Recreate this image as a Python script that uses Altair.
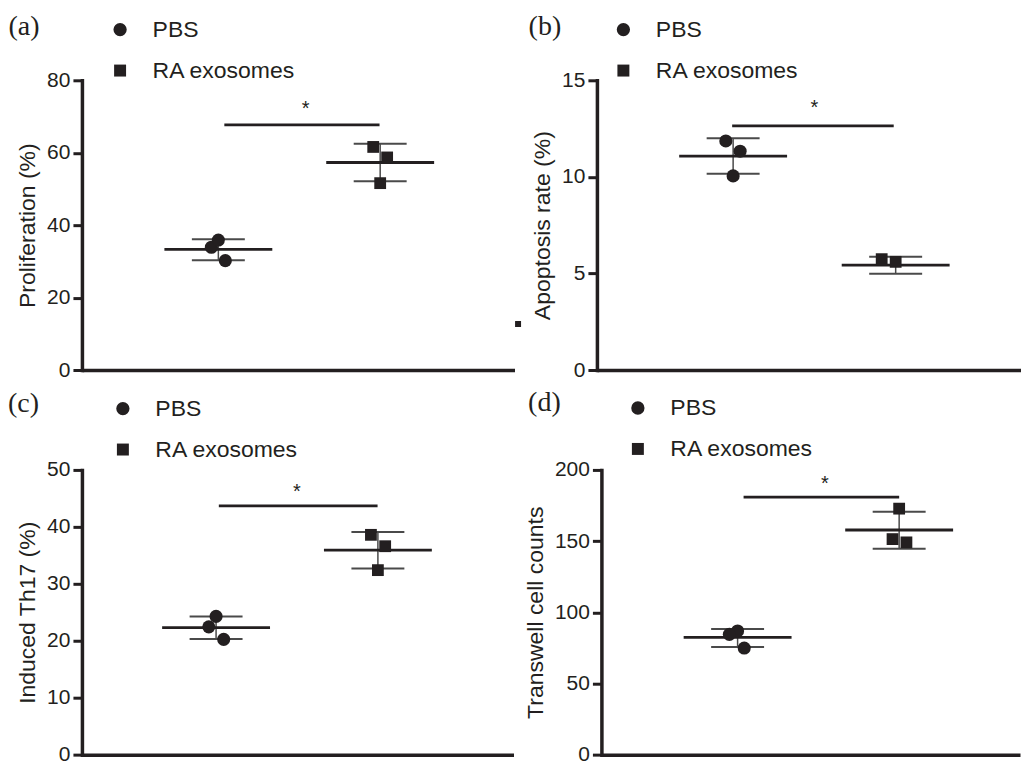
import altair as alt
import pandas as pd

FONT = "Liberation Sans"
SERIF = "Liberation Serif"
INK = "#231f20"
GREY = "#4a4a4a"
SQ = "M-0.9,-0.9H0.9V0.9H-0.9Z"

groups = ["PBS", "RA exosomes"]
group_pos = [1, 2]

# ---- panel (a) Proliferation ----
a_pbs = [33.9, 35.9, 30.2]
a_pbs_dx = [-0.043, 0.0, 0.043]
a_ra = [61.6, 58.7, 51.6]
a_ra_dx = [-0.043, 0.043, 0.0]
a_mean = [33.3, 57.3]
a_lo = [30.3, 52.1]
a_hi = [36.1, 62.5]
a_sig = [1.037, 1.996, 67.7]
a_star = [1.54, 70.3]
a_ticks = [0, 20, 40, 60, 80]

# ---- panel (b) Apoptosis ----
b_pbs = [11.86, 11.33, 10.05]
b_pbs_dx = [-0.045, 0.043, 0.0]
b_ra = [5.74, 5.60]
b_ra_dx = [-0.086, 0.0]
b_mean = [11.07, 5.43]
b_lo = [10.16, 4.98]
b_hi = [12.0, 5.86]
b_sig = [0.994, 1.988, 12.64]
b_star = [1.50, 13.24]
b_ticks = [0, 5, 10, 15]

# ---- panel (c) Th17 ----
c_pbs = [24.28, 22.44, 20.24]
c_pbs_dx = [0.0, -0.045, 0.047]
c_ra = [38.6, 36.6, 32.4]
c_ra_dx = [-0.043, 0.045, 0.0]
c_mean = [22.3, 35.9]
c_lo = [20.3, 32.7]
c_hi = [24.28, 39.1]
c_sig = [1.017, 1.998, 43.7]
c_star = [1.50, 45.0]
c_ticks = [0, 10, 20, 30, 40, 50]

# ---- panel (d) Transwell ----
d_pbs = [86.9, 84.5, 74.9]
d_pbs_dx = [0.0, -0.051, 0.041]
d_ra = [172.8, 151.4, 149.1]
d_ra_dx = [0.0, -0.041, 0.045]
d_mean = [82.3, 157.8]
d_lo = [75.6, 144.7]
d_hi = [88.3, 170.7]
d_sig = [1.037, 2.0, 180.9]
d_star = [1.54, 186.0]
d_ticks = [0, 50, 100, 150, 200]

# stray marker seen in panel (a) area
stray = [2.852, 12.7]

panels = {
    "a": dict(pbs=a_pbs, pdx=a_pbs_dx, ra=a_ra, rdx=a_ra_dx, mean=a_mean, lo=a_lo, hi=a_hi,
              sig=a_sig, star=a_star, ticks=a_ticks, title="Proliferation (%)", label="(a)",
              xdom=[0.157, 2.83], w=433, h=290, lx=26.7, ly=-62.25, tdx=-73.5, toff=-44.5),
    "b": dict(pbs=b_pbs, pdx=b_pbs_dx, ra=b_ra, rdx=b_ra_dx, mean=b_mean, lo=b_lo, hi=b_hi,
              sig=b_sig, star=b_star, ticks=b_ticks, title="Apoptosis rate (%)", label="(b)",
              xdom=[0.162, 2.768], w=424, h=290, lx=15, ly=-62.25, tdx=-68.4, toff=-44.5),
    "c": dict(pbs=c_pbs, pdx=c_pbs_dx, ra=c_ra, rdx=c_ra_dx, mean=c_mean, lo=c_lo, hi=c_hi,
              sig=c_sig, star=c_star, ticks=c_ticks, title="Induced Th17 (%)", label="(c)",
              xdom=[0.171, 2.838], w=432, h=285, lx=29.5, ly=-72.9, tdx=-74, toff=-42.5),
    "d": dict(pbs=d_pbs, pdx=d_pbs_dx, ra=d_ra, rdx=d_ra_dx, mean=d_mean, lo=d_lo, hi=d_hi,
              sig=d_sig, star=d_star, ticks=d_ticks, title="Transwell cell counts", label="(d)",
              xdom=[0.157, 2.748], w=419, h=285, lx=25, ly=-73.5, tdx=-73.4, toff=-42.5),
}


def make_panel(key, with_stray=False):
    p = panels[key]
    pts = pd.DataFrame({
        "x": [group_pos[0] + d for d in p["pdx"]] + [group_pos[1] + d for d in p["rdx"]],
        "y": p["pbs"] + p["ra"],
        "group": [groups[0]] * len(p["pbs"]) + [groups[1]] * len(p["ra"]),
    })
    summ = pd.DataFrame({"x": group_pos, "mean": p["mean"], "lo": p["lo"], "hi": p["hi"]})
    caps = pd.DataFrame({"x": group_pos + group_pos, "y": p["lo"] + p["hi"]})
    sig = pd.DataFrame({"x": [p["sig"][0]], "x2": [p["sig"][1]], "y": [p["sig"][2]]})
    star = pd.DataFrame({"x": [p["star"][0]], "y": [p["star"][1]], "t": ["*"]})

    xs = alt.Scale(domain=p["xdom"], nice=False, zero=False)
    ys = alt.Scale(domain=[p["ticks"][0], p["ticks"][-1]], nice=False)
    xaxis = alt.Axis(labels=False, ticks=False, title=None, grid=False,
                     domainWidth=3.5, domainColor=INK)
    yaxis = alt.Axis(values=p["ticks"], grid=False, domainWidth=3.5, domainColor=INK,
                     domainCap="square", tickColor=INK, tickWidth=3, tickSize=9,
                     labelFont=FONT, labelFontSize=21, labelColor=INK, labelPadding=3,
                     title=p["title"], titleFont=FONT, titleFontSize=23,
                     titleFontWeight="normal", titleColor=INK, titlePadding=7)

    def X(f):
        return alt.X(f, type="quantitative", scale=xs, axis=xaxis)

    def Y(f):
        return alt.Y(f, type="quantitative", scale=ys, axis=yaxis)

    sd = alt.Chart(summ).mark_rule(color=GREY, strokeWidth=1.5).encode(
        x=X("x"), y=Y("lo"), y2="hi")
    cap = alt.Chart(caps).mark_tick(orient="horizontal", size=53, thickness=2,
                                    color=GREY, opacity=1).encode(x=X("x"), y=Y("y"))
    mean = alt.Chart(summ).mark_tick(orient="horizontal", size=108, thickness=2.8,
                                     color=INK, opacity=1).encode(x=X("x"), y=Y("mean"))
    bar = alt.Chart(sig).mark_rule(color=INK, strokeWidth=2.7).encode(
        x=X("x"), x2="x2", y=Y("y"))
    st = alt.Chart(star).mark_text(font=FONT, fontSize=20, color=INK,
                                   baseline="alphabetic").encode(
        x=X("x"), y=Y("y"), text="t:N")
    dots = alt.Chart(pts).mark_point(filled=True, size=172, opacity=1, color=INK).encode(
        x=X("x"), y=Y("y"),
        shape=alt.Shape("group:N", scale=alt.Scale(domain=groups, range=["circle", SQ]),
                        legend=alt.Legend(title=None, orient="none", legendX=p["lx"],
                                          legendY=p["ly"], direction="vertical",
                                          symbolSize=177, symbolFillColor=INK,
                                          symbolStrokeColor=INK, symbolStrokeWidth=0,
                                          labelFont=FONT, labelFontSize=23,
                                          labelColor=INK, labelOffset=21,
                                          rowPadding=17, padding=0)))
    layers = [sd, cap, mean, bar, st, dots]
    if with_stray:
        sdf = pd.DataFrame({"x": [stray[0]], "y": [stray[1]]})
        layers.append(alt.Chart(sdf).mark_point(shape="square", filled=True, size=36,
                                                opacity=1, color=INK).encode(
            x=X("x"), y=Y("y")))
    ch = alt.layer(*layers).properties(
        width=p["w"], height=p["h"],
        title=alt.TitleParams(text=p["label"], anchor="start", frame="group",
                              font=SERIF, fontSize=28, fontWeight="normal", color=INK,
                              dx=p["tdx"], baseline="alphabetic", offset=p["toff"]))
    return ch


row1 = alt.hconcat(make_panel("a", True), make_panel("b"), spacing=82.5,
                   bounds="flush").resolve_scale(
    shape="independent").resolve_legend(shape="independent")
row2 = alt.hconcat(make_panel("c"), make_panel("d"), spacing=88,
                   bounds="flush").resolve_scale(
    shape="independent").resolve_legend(shape="independent")
chart = alt.vconcat(row1, row2, spacing=9).resolve_scale(
    shape="independent").resolve_legend(shape="independent").properties(
    padding={"left": 0, "top": 4, "right": 0, "bottom": 0}
).configure_view(stroke=None)

chart.save("out.html", embed_options={"renderer": "svg", "actions": False})
